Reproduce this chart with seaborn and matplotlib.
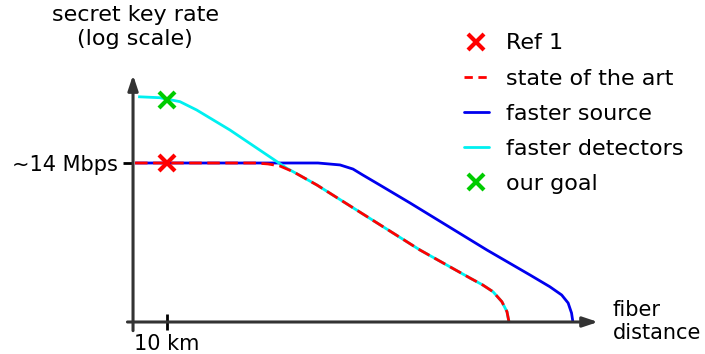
import matplotlib
matplotlib.use("Agg")
import matplotlib.pyplot as plt
import seaborn as sns
from matplotlib.lines import Line2D

# fiber distance (km) and secret key rate (Mbps, log scale)
art_km = [0.6, 35.9, 39.7, 43.2, 47.1, 54.1, 84.4, 99.1, 102.9, 105.9, 108.5, 110.0, 110.6]
art_rate = [14, 14, 13.4, 12.2, 9.38, 5.08, 0.255, 0.0702, 0.0508, 0.0373, 0.0236, 0.0149, 0.00925]

source_km = [0.6, 54.4, 60.9, 64.7, 67.6, 72.6, 81.5, 104.1, 116.8, 122.6, 126.1, 128.0, 129.0, 129.4]
source_rate = [14, 14, 12.8, 10.6, 8.05, 5.08, 2.22, 0.255, 0.0805, 0.0470, 0.0321, 0.0222, 0.014, 0.00925]

det_km = [1.5, 7.9, 13.8, 18.7, 28.5, 45.3, 47.1, 54.1, 84.4, 99.1, 102.9, 105.9, 108.5, 110.0, 110.6]
det_rate = [296, 283, 236, 161, 64, 10.9, 9.38, 5.08, 0.255, 0.0702, 0.0508, 0.0373, 0.0236, 0.0149, 0.00925]

ref_km, ref_rate = [10], [14]
goal_km, goal_rate = [10], [255]

sns.set_style("white")
plt.rcParams["font.family"] = ["DejaVu Sans"]
plt.rcParams["text.color"] = "black"

fig = plt.figure(figsize=(7.05, 3.54), dpi=100)
ax = fig.add_axes([0.1887, 0.0904, 0.6596, 0.6977])

RED, BLUE, CYAN, GREEN = "#ff0000", "#0000ee", "#00f0f0", "#00cc00"
line_kw = dict(ax=ax, lw=2, sort=False, estimator=None, solid_joinstyle="round",
               solid_capstyle="butt")

sns.lineplot(x=source_km, y=source_rate, color=BLUE, **line_kw)
sns.lineplot(x=det_km, y=det_rate, color=CYAN, **line_kw)
sns.lineplot(x=art_km, y=art_rate, color=RED, linestyle=(0, (4.5, 2)), **line_kw)
ax.plot(ref_km, ref_rate, "x", color=RED, ms=11, mew=3, zorder=5, clip_on=False)
ax.plot(goal_km, goal_rate, "x", color=GREEN, ms=11, mew=3, zorder=5, clip_on=False)

ax.set_yscale("log")
ax.set_xlim(0, 136.8)
ax.set_ylim(0.00925, 805)
for s in ax.spines.values():
    s.set_visible(False)

# axes with arrow heads
arrow = dict(arrowstyle="-|>,head_length=0.9,head_width=0.3", color="#333333", lw=2.2,
             shrinkA=0, shrinkB=0)
ax.annotate("", xy=(1.0, 0), xytext=(-0.012, 0), xycoords="axes fraction",
            arrowprops=arrow, annotation_clip=False)
ax.annotate("", xy=(0, 1.0), xytext=(0, -0.035), xycoords="axes fraction",
            arrowprops=arrow, annotation_clip=False)

ax.set_xticks([10])
ax.set_xticklabels(["10 km"])
ax.set_yticks([14])
ax.set_yticklabels(["~14 Mbps"])
ax.minorticks_off()
ax.tick_params(axis="both", bottom=True, left=True, labelsize=15, colors="black", width=2)
ax.tick_params(axis="x", direction="inout", length=12, pad=3)
ax.tick_params(axis="y", direction="out", length=7, pad=4)

fig.text(0.192, 0.985, "secret key rate\n(log scale)", ha="center", va="top", fontsize=16,
         linespacing=1.2)
fig.text(0.869, 0.152, "fiber\ndistance", ha="left", va="top", fontsize=15, linespacing=1.2)

handles = [
    Line2D([], [], ls="none", marker="x", color=RED, ms=11, mew=3),
    Line2D([], [], color=RED, lw=2, linestyle=(0, (3, 2))),
    Line2D([], [], color=BLUE, lw=2),
    Line2D([], [], color=CYAN, lw=2),
    Line2D([], [], ls="none", marker="x", color=GREEN, ms=11, mew=3),
]
labels = ["Ref 1", "state of the art", "faster source", "faster detectors", "our goal"]
fig.legend(handles, labels, loc="upper left", bbox_to_anchor=(0.630, 0.962), frameon=False,
           fontsize=16, handlelength=1.1, handletextpad=0.8, labelspacing=0.68)

fig.savefig("out.png", dpi=100)
